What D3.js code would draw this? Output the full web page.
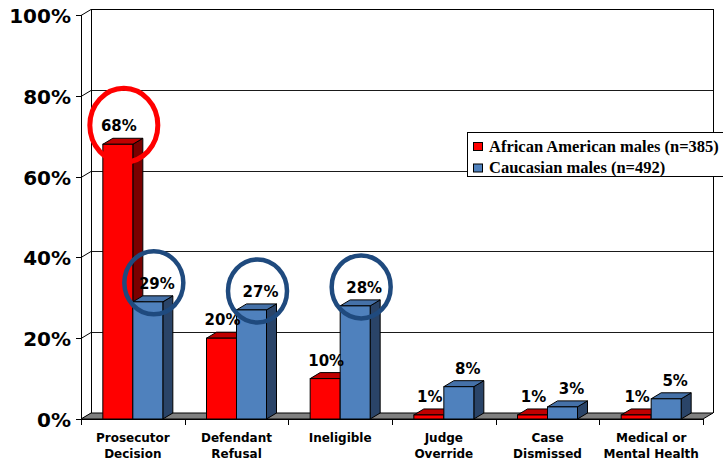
<!DOCTYPE html>
<html>
<head>
<meta charset="utf-8">
<script src="https://cdn.jsdelivr.net/npm/d3@7"></script>
<style>
  html, body { margin: 0; padding: 0; background: #fff; }
  svg { display: block; }
</style>
</head>
<body>
<svg id="chart" width="723" height="463"></svg>
<script>
// ---------- data ----------
const categories = ["Prosecutor Decision", "Defendant Refusal", "Ineligible", "Judge Override", "Case Dismissed", "Medical or Mental Health"];
const categoryLines = [["Prosecutor", "Decision"], ["Defendant", "Refusal"], ["Ineligible"], ["Judge", "Override"], ["Case", "Dismissed"], ["Medical or", "Mental Health"]];
const seriesNames = ["African American males (n=385)", "Caucasian males (n=492)"];
const africanAmericanMales = [68, 20, 10, 1, 1, 1];
const caucasianMales = [29, 27, 28, 8, 3, 5];
const yTicks = [0, 20, 40, 60, 80, 100];
// highlighted labels: [series index, category index]
const highlighted = [[0, 0], [1, 0], [1, 1], [1, 2]];

// ---------- layout / style ----------
const seriesValues = [africanAmericanMales, caucasianMales];
const svg = d3.select("#chart");
const X0 = 81, X1 = 703, YB = 419, YT = 15;
const DX = 10, DY = -6;
const barW = 30;
const colors = [
  { front: "#ff0000", top: "#c00000", side: "#7a0000", legend: "#ff0000", ring: "#ff0000" },
  { front: "#4f81bd", top: "#4571a8", side: "#2a4468", legend: "#4f81bd", ring: "#1f4a7e" }
];

const y = d3.scaleLinear().domain([0, 100]).range([YB, YT]);
const x0 = d3.scaleBand().domain(categories).range([X0, X1]).paddingInner(0).paddingOuter(0);
const bw = x0.bandwidth();
const x1 = d3.scaleBand().domain(d3.range(seriesValues.length)).range([bw / 2 - barW, bw / 2 + barW]).padding(0);

const g = svg.append("g");

// back wall
g.append("rect").attr("x", X0 + DX).attr("y", y(100) + DY).attr("width", X1 - X0).attr("height", y(0) - y(100))
  .attr("fill", "#fff").attr("stroke", "none");

// gridlines (side wall diagonals + back wall)
yTicks.forEach(t => {
  const yy = Math.round(y(t)) + 0.5;
  if (t > 0) {
    g.append("line").attr("x1", X0 + DX).attr("x2", X1 + DX).attr("y1", yy + DY).attr("y2", yy + DY)
      .attr("stroke", t === 100 ? "#000" : "#1a1a1a").attr("stroke-width", 1);
  }
  g.append("line").attr("x1", X0).attr("x2", X0 + DX).attr("y1", yy).attr("y2", yy + DY)
    .attr("stroke", "#000").attr("stroke-width", 1);
  g.append("line").attr("x1", X0 - 5).attr("x2", X0).attr("y1", yy).attr("y2", yy)
    .attr("stroke", "#000").attr("stroke-width", 1);
});

// wall edges
g.append("line").attr("x1", X0 + DX + 0.5).attr("x2", X0 + DX + 0.5).attr("y1", y(100) + DY).attr("y2", y(0) + DY).attr("stroke", "#000");
g.append("line").attr("x1", X1 + DX + 0.5).attr("x2", X1 + DX + 0.5).attr("y1", y(100) + DY).attr("y2", y(0) + DY).attr("stroke", "#000");
g.append("line").attr("x1", X0 + 0.5).attr("x2", X0 + 0.5).attr("y1", y(100)).attr("y2", y(0)).attr("stroke", "#000");

// floor
g.append("path")
  .attr("d", `M${X0},${YB}L${X0 + DX},${YB + DY}L${X1 + DX},${YB + DY}L${X1},${YB}Z`)
  .attr("fill", "#808080").attr("stroke", "#000").attr("stroke-width", 1);
g.append("line").attr("x1", X0 - 5).attr("x2", X1).attr("y1", YB + 0.5).attr("y2", YB + 0.5).attr("stroke", "#000");

// category ticks
d3.range(categories.length + 1).forEach(i => {
  const xx = Math.round(X0 + i * bw) + 0.5;
  g.append("line").attr("x1", xx).attr("x2", xx).attr("y1", YB).attr("y2", YB + 6).attr("stroke", "#000");
});

// y tick labels
g.selectAll("text.ytick").data(yTicks).join("text")
  .attr("class", "ytick")
  .attr("x", 71).attr("y", d => y(d) + 8)
  .attr("text-anchor", "end")
  .attr("font-family", "DejaVu Sans").attr("font-weight", "bold").attr("font-size", 20)
  .attr("fill", "#000")
  .text(d => d + "%");

// bars
const barPos = {};
categories.forEach((c, ci) => {
  seriesValues.forEach((vals, si) => {
    const v = vals[ci];
    const bx = x0(c) + x1(si);
    const by = y(v);
    const col = colors[si];
    const bg = g.append("g");
    bg.append("path")
      .attr("d", `M${bx + barW},${by}L${bx + barW + DX},${by + DY}L${bx + barW + DX},${YB + DY}L${bx + barW},${YB}Z`)
      .attr("fill", col.side).attr("stroke", "#000").attr("stroke-width", 1).attr("stroke-linejoin", "round");
    bg.append("path")
      .attr("d", `M${bx},${by}L${bx + DX},${by + DY}L${bx + barW + DX},${by + DY}L${bx + barW},${by}Z`)
      .attr("fill", col.top).attr("stroke", "#000").attr("stroke-width", 1).attr("stroke-linejoin", "round");
    bg.append("rect").attr("x", bx).attr("y", by).attr("width", barW).attr("height", YB - by)
      .attr("fill", col.front).attr("stroke", "#000").attr("stroke-width", 1);
    barPos[si + "-" + ci] = [bx + barW / 2, by];
  });
});

// value labels
categories.forEach((c, ci) => {
  seriesValues.forEach((vals, si) => {
    const [cx, top] = barPos[si + "-" + ci];
    g.append("text").attr("x", cx + (si === 0 ? 1 : 9)).attr("y", top - 13)
      .attr("text-anchor", "middle")
      .attr("font-family", "DejaVu Sans").attr("font-weight", "bold").attr("font-size", 15)
      .attr("fill", "#000")
      .text(vals[ci] + "%");
  });
});

// highlight rings
highlighted.forEach(([si, ci]) => {
  const [cx, top] = barPos[si + "-" + ci];
  g.append("ellipse")
    .attr("cx", cx + 6).attr("cy", top - 19)
    .attr("rx", si === 0 ? 34 : 29.5).attr("ry", si === 0 ? 37 : 31.5)
    .attr("fill", "none").attr("stroke", colors[si].ring).attr("stroke-width", si === 0 ? 5 : 4.5);
});

// category labels
categoryLines.forEach((lines, ci) => {
  const cx = x0(categories[ci]) + bw / 2;
  lines.forEach((ln, li) => {
    g.append("text").attr("x", cx).attr("y", 442 + li * 15.5)
      .attr("text-anchor", "middle")
      .attr("font-family", "DejaVu Sans").attr("font-weight", "bold").attr("font-size", 12)
      .attr("fill", "#000")
      .text(ln);
  });
});

// legend
const lg = svg.append("g");
lg.append("rect").attr("x", 467.5).attr("y", 132.5).attr("width", 260).attr("height", 44)
  .attr("fill", "#fff").attr("stroke", "#000").attr("stroke-width", 1);
seriesNames.forEach((name, i) => {
  const ry = 142 + i * 21.5;
  lg.append("rect").attr("x", 473.5).attr("y", ry + 0.5).attr("width", 9).attr("height", 8)
    .attr("fill", colors[i].legend).attr("stroke", "#000").attr("stroke-width", 1);
  lg.append("text").attr("x", 489).attr("y", ry + 9.5)
    .attr("font-family", "Liberation Serif").attr("font-weight", "bold").attr("font-size", 16.5)
    .attr("fill", "#000")
    .text(name);
});
</script>
</body>
</html>
